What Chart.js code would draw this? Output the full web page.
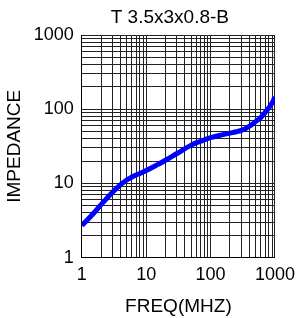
<!DOCTYPE html>
<html>
<head>
<meta charset="utf-8">
<script src="https://cdn.jsdelivr.net/npm/chart.js@4"></script>
<style>
  html, body { margin: 0; padding: 0; background: #fff; }
  #wrap { width: 302px; height: 318px; }
</style>
</head>
<body>
<div id="wrap"><canvas id="impedance"></canvas></div>
<script>
// impedance curve
var freq = [1, 1.5, 2, 3, 4, 5, 6, 7, 8, 10, 15, 20, 30, 50, 70, 100, 150, 200, 250, 300, 350, 400, 500, 600, 700, 800, 900, 1000];
var impedance = [2.7, 3.9, 5.2, 7.6, 9.6, 11.1, 12.2, 13.0, 13.6, 14.9, 17.9, 20.5, 25.3, 32.8, 37, 41.3, 45, 47.6, 49.6, 51.8, 54.8, 58.8, 68, 77, 90, 104, 121, 146];

// labelled decades and the minor grid steps inside each decade
var decadeTicks = [1, 10, 100, 1000];
var minorSteps = [2, 3, 4, 5, 6, 7, 8, 9];

var gridValues = [];
decadeTicks.forEach(function (d, i) {
  gridValues.push(d);
  if (i < decadeTicks.length - 1) {
    minorSteps.forEach(function (s) { gridValues.push(d * s); });
  }
});

var fontFamily = '"Liberation Sans", Arial, sans-serif';

function setGrid(axis) {
  axis.ticks = gridValues.map(function (v) { return { value: v }; });
}
function decadeLabel(value) {
  return decadeTicks.indexOf(value) >= 0 ? String(value) : '';
}

// title drawn over the top strip
var chartTitle = {
  id: 'chartTitle',
  afterDraw: function (chart) {
    var ctx = chart.ctx;
    ctx.save();
    ctx.fillStyle = '#000';
    ctx.font = '19px ' + fontFamily;
    ctx.textAlign = 'center';
    ctx.textBaseline = 'middle';
    ctx.fillText('T 3.5x3x0.8-B', chart.chartArea.left + 88, 18);
    ctx.restore();
  }
};

var points = freq.map(function (f, i) { return { x: f, y: impedance[i] }; });

var ctx = document.getElementById('impedance').getContext('2d');
var myChart = new Chart(ctx, {
  type: 'line',
  data: {
    datasets: [{
      data: points,
      borderColor: '#0000ff',
      borderWidth: 5,
      pointRadius: 0,
      fill: false,
      tension: 0.4
    }]
  },
  options: {
    responsive: true,
    maintainAspectRatio: false,
    animation: false,
    layout: { padding: { top: 35, right: 25, bottom: 0, left: 3 } },
    plugins: { legend: { display: false }, tooltip: { enabled: false } },
    scales: {
      x: {
        type: 'logarithmic',
        min: 1,
        max: 1000,
        afterBuildTicks: setGrid,
        grid: { color: '#222', lineWidth: 1, drawTicks: false },
        border: { color: '#000', width: 1 },
        ticks: {
          autoSkip: false,
          maxRotation: 0,
          padding: 7,
          color: '#000',
          font: { family: fontFamily, size: 18 },
          callback: decadeLabel
        },
        title: {
          display: true,
          text: 'FREQ(MHZ)',
          color: '#000',
          font: { family: fontFamily, size: 19 },
          padding: { top: 2, bottom: 0 }
        }
      },
      y: {
        type: 'logarithmic',
        min: 1,
        max: 1000,
        afterBuildTicks: setGrid,
        grid: { color: '#222', lineWidth: 1, drawTicks: false },
        border: { color: '#000', width: 1 },
        ticks: {
          autoSkip: false,
          padding: 8,
          color: '#000',
          font: { family: fontFamily, size: 18 },
          callback: decadeLabel
        },
        title: {
          display: true,
          text: 'IMPEDANCE',
          color: '#000',
          font: { family: fontFamily, size: 19 },
          padding: { top: 0, bottom: 0 }
        }
      }
    }
  },
  plugins: [chartTitle]
});
</script>
</body>
</html>
